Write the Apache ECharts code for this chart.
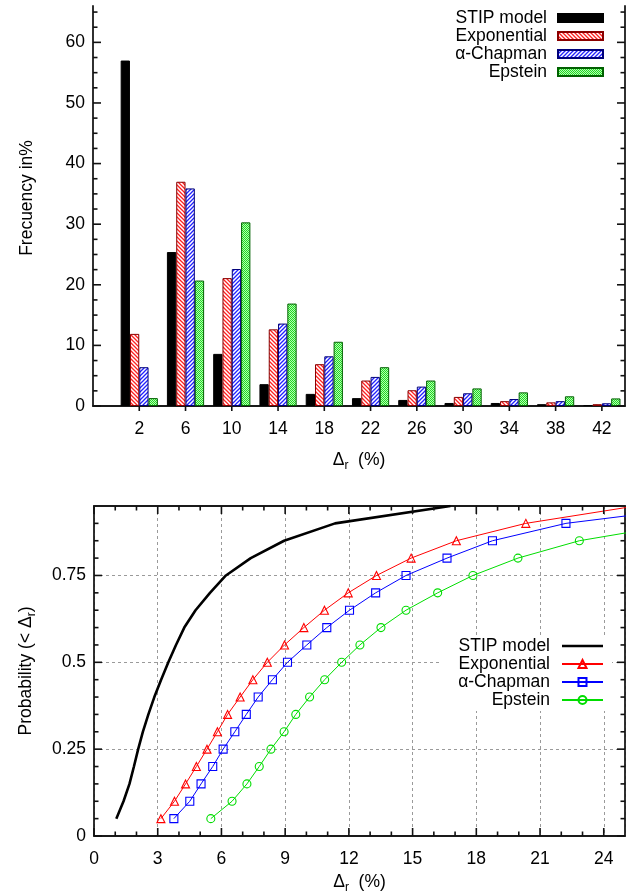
<!DOCTYPE html>
<html><head><meta charset="utf-8">
<script src="https://cdn.jsdelivr.net/npm/echarts@6/dist/echarts.min.js"></script>
<style>html,body{margin:0;padding:0;background:#fff}#c{width:632px;height:895px}</style>
</head><body><div id="c"></div>
<script>
// ---------- DATA: top histogram ----------
const barCats = [2, 6, 10, 14, 18, 22, 26, 30, 34, 38, 42];
const stipFreq = [57.0, 25.4, 8.6, 3.6, 2.0, 1.3, 1.0, 0.5, 0.5, 0.3, 0.15];
const expoFreq = [11.9, 37.0, 21.1, 12.65, 6.9, 4.2, 2.6, 1.5, 0.8, 0.6, 0.3];
const chapFreq = [6.4, 35.9, 22.6, 13.6, 8.2, 4.8, 3.2, 2.1, 1.15, 0.8, 0.45];
const epstFreq = [1.3, 20.7, 30.3, 16.9, 10.6, 6.4, 4.2, 2.9, 2.25, 1.6, 1.25];
const topYLabels = [0, 10, 20, 30, 40, 50, 60];
const topYMinor = [2.5, 5, 7.5, 12.5, 15, 17.5, 22.5, 25, 27.5, 32.5, 35, 37.5, 42.5, 45, 47.5, 52.5, 55, 57.5, 62.5, 65];

// ---------- DATA: bottom cumulative curves ----------
const stipX = [1.05, 1.39, 1.67, 1.88, 2.08, 2.30, 2.56, 2.84, 3.16, 3.50, 3.86, 4.25, 4.78, 5.46, 6.21, 7.38, 8.95, 11.35, 16.78];
const stipP = [0.05, 0.10, 0.15, 0.20, 0.25, 0.30, 0.35, 0.40, 0.45, 0.50, 0.55, 0.60, 0.65, 0.70, 0.75, 0.80, 0.85, 0.90, 0.95];
const expoX = [3.15, 3.79, 4.31, 4.82, 5.32, 5.81, 6.29, 6.88, 7.48, 8.16, 8.97, 9.88, 10.85, 11.97, 13.30, 14.93, 17.06, 20.33, 25.5];
const expoP = [0.05, 0.10, 0.15, 0.20, 0.25, 0.30, 0.35, 0.40, 0.45, 0.50, 0.55, 0.60, 0.65, 0.70, 0.75, 0.80, 0.85, 0.90, 0.95];
const chapX = [3.76, 4.51, 5.04, 5.59, 6.08, 6.63, 7.17, 7.73, 8.40, 9.11, 10.02, 10.96, 12.03, 13.26, 14.69, 16.62, 18.76, 22.22, 28.8];
const chapP = [0.05, 0.10, 0.15, 0.20, 0.25, 0.30, 0.35, 0.40, 0.45, 0.50, 0.55, 0.60, 0.65, 0.70, 0.75, 0.80, 0.85, 0.90, 0.95];
const epstX = [5.50, 6.50, 7.20, 7.78, 8.33, 8.95, 9.50, 10.15, 10.86, 11.66, 12.52, 13.51, 14.69, 16.18, 17.84, 19.96, 22.85, 27.7];
const epstP = [0.05, 0.10, 0.15, 0.20, 0.25, 0.30, 0.35, 0.40, 0.45, 0.50, 0.55, 0.60, 0.65, 0.70, 0.75, 0.80, 0.85, 0.90];
const botXLabels = [0, 3, 6, 9, 12, 15, 18, 21, 24];
const botXMinor = [1, 2, 4, 5, 7, 8, 10, 11, 13, 14, 16, 17, 19, 20, 22, 23];
const botYLabels = [0, 0.25, 0.5, 0.75];
const botYMinor = [0.05, 0.1, 0.15, 0.2, 0.3, 0.35, 0.4, 0.45, 0.55, 0.6, 0.65, 0.7, 0.8, 0.85, 0.9];
const seriesNames = ['STIP model', 'Exponential', '\u03b1-Chapman', 'Epstein'];

// ---------- STYLE HELPERS ----------
const FONT = '"Liberation Sans", Arial, sans-serif';
const FS = 17.5;
function stripes(color, dir) {
  const c = document.createElement('canvas'); c.width = 4; c.height = 4;
  const g = c.getContext('2d');
  g.fillStyle = '#fff'; g.fillRect(0, 0, 4, 4);
  g.strokeStyle = color; g.lineWidth = 1.3; g.beginPath();
  if (dir > 0) { g.moveTo(0, 4); g.lineTo(4, 0); g.moveTo(-1, 1); g.lineTo(1, -1); g.moveTo(3, 5); g.lineTo(5, 3); }
  else { g.moveTo(0, 0); g.lineTo(4, 4); g.moveTo(-1, 3); g.lineTo(1, 5); g.moveTo(3, -1); g.lineTo(5, 1); }
  g.stroke();
  return { image: c, repeat: 'repeat' };
}
function dots() {
  const c = document.createElement('canvas'); c.width = 2; c.height = 2;
  const g = c.getContext('2d');
  g.fillStyle = '#b4f8b4'; g.fillRect(0, 0, 2, 2);
  g.fillStyle = '#20dd20'; g.fillRect(0, 0, 1, 1); g.fillRect(1, 1, 1, 1);
  return { image: c, repeat: 'repeat' };
}
const lbl = { fontSize: FS, color: '#000', fontFamily: FONT };
function frame() { return { show: true, onZero: false, lineStyle: { color: '#1a1a1a', width: 1.8 } }; }
const rich = {
  a: { fontSize: FS, fontFamily: FONT, color: '#000' },
  b: { fontSize: 12, fontFamily: FONT, color: '#000', padding: [11, 0, 0, 0] }
};
const dashed = { show: true, lineStyle: { color: '#9a9a9a', width: 1, type: [3, 3] } };

function ax(o) {
  return Object.assign({
    type: 'value', axisLine: frame(), axisLabel: { show: false },
    axisTick: { show: false }, splitLine: { show: false }, minorTick: { show: false }
  }, o);
}

const xAxis = [
  ax({ gridIndex: 0, min: -2, max: 44, position: 'bottom',
       axisLabel: Object.assign({ show: true, customValues: barCats, margin: 14 }, lbl),
       name: '{a|\u0394}{b|r}{a|  (%)}', nameLocation: 'middle', nameGap: 43,
       nameTextStyle: { rich: rich } }),
  ax({ gridIndex: 1, min: 0, max: 25, interval: 3, position: 'bottom', splitLine: dashed,
       axisLabel: Object.assign({ show: true, customValues: botXLabels, margin: 14 }, lbl),
       name: '{a|\u0394}{b|r}{a|  (%)}', nameLocation: 'middle', nameGap: 35,
       nameTextStyle: { rich: rich } }),
  ax({ gridIndex: 1, min: 0, max: 25, position: 'top' })
];
const yAxis = [
  ax({ gridIndex: 0, min: 0, max: 66, position: 'left',
       axisLabel: Object.assign({ show: true, customValues: topYLabels, margin: 8 }, lbl),
       name: 'Frecuency in%', nameLocation: 'middle', nameGap: 57,
       nameTextStyle: Object.assign({ padding: [0, 0, 0, 16] }, lbl) }),
  ax({ gridIndex: 0, min: 0, max: 66, position: 'right' }),
  ax({ gridIndex: 1, min: 0, max: 0.95, interval: 0.25, position: 'left', splitLine: dashed,
       axisLabel: Object.assign({ show: true, customValues: botYLabels, margin: 8 }, lbl),
       name: '{a|Probability (< \u0394}{b|r}{a|)}', nameLocation: 'middle', nameGap: 56,
       nameTextStyle: { rich: rich } }),
  ax({ gridIndex: 1, min: 0, max: 0.95, position: 'right' })
];

// tick marks drawn through the axes' scales (api.coord)
const tickLine = { stroke: '#111', lineWidth: 1.6 };
function tickSeries(xIdx, yIdx, orient, major, minor, majorLen, minorLen, mode) {
  const data = major.map(v => [v, 1]).concat(minor.map(v => [v, 0]));
  return {
    type: 'custom', xAxisIndex: xIdx, yAxisIndex: yIdx, silent: true, z: 6, clip: false,
    encode: orient === 'y' ? { y: 0, x: 1 } : { x: 0, y: 1 },
    data: data,
    renderItem: function (params, api) {
      const v = api.value(0), isMajor = api.value(1) === 1;
      const cs = params.coordSys, L = isMajor ? majorLen : minorLen;
      const kids = [];
      if (orient === 'y') {
        const y = api.coord([0, v])[1];
        kids.push({ type: 'line', shape: { x1: cs.x, y1: y, x2: cs.x + L, y2: y }, style: tickLine });
        kids.push({ type: 'line', shape: { x1: cs.x + cs.width, y1: y, x2: cs.x + cs.width - L, y2: y }, style: tickLine });
      } else {
        const x = api.coord([v, 0])[0];
        const yb = cs.y + cs.height;
        if (mode === 'out') {
          kids.push({ type: 'line', shape: { x1: x, y1: yb, x2: x, y2: yb + L }, style: tickLine });
        } else {
          kids.push({ type: 'line', shape: { x1: x, y1: yb, x2: x, y2: yb - L }, style: tickLine });
          kids.push({ type: 'line', shape: { x1: x, y1: cs.y, x2: x, y2: cs.y + L }, style: tickLine });
        }
      }
      return { type: 'group', children: kids };
    }
  };
}

const pair = (xs, ys) => xs.map((x, i) => [x, ys[i]]);
const barStyles = [
  { color: '#000', borderColor: '#000', borderWidth: 1 },
  { color: stripes('#ff2020', -1), borderColor: '#8a0000', borderWidth: 1 },
  { color: stripes('#2020ff', 1), borderColor: '#00007a', borderWidth: 1 },
  { color: dots(), borderColor: '#006000', borderWidth: 1 }
];
const freqs = [stipFreq, expoFreq, chapFreq, epstFreq];
const barSeries = freqs.map((f, k) => ({
  type: 'bar', name: seriesNames[k], xAxisIndex: 0, yAxisIndex: 0,
  barWidth: 9.3, barGap: '0%', itemStyle: barStyles[k],
  data: barCats.map((c, i) => [c, f[i]])
}));

const lineDefs = [
  { x: stipX, p: stipP, color: '#000', width: 2.6, symbol: 'none' },
  { x: expoX, p: expoP, color: '#ff0000', width: 1, symbol: 'triangle' },
  { x: chapX, p: chapP, color: '#0000ff', width: 1, symbol: 'rect' },
  { x: epstX, p: epstP, color: '#00dd00', width: 1, symbol: 'circle' }
];
const lineSeries = lineDefs.map((d, k) => ({
  type: 'line', name: seriesNames[k] + ' ', xAxisIndex: 1, yAxisIndex: 2,
  data: pair(d.x, d.p), clip: true, symbol: d.symbol, symbolSize: 8, showSymbol: d.symbol !== 'none',
  lineStyle: { color: d.color, width: d.width },
  itemStyle: { color: k === 0 ? '#000' : 'rgba(255,255,255,0)', borderColor: d.color, borderWidth: 1.1 },
  z: k === 0 ? 3 : 4
}));

const tickSeriesList = [
  tickSeries(0, 0, 'x', barCats, [], 5, 0, 'out'),
  tickSeries(0, 0, 'y', topYLabels, topYMinor, 8, 4.5),
  tickSeries(1, 2, 'x', botXLabels, botXMinor, 8, 4.5, 'in'),
  tickSeries(1, 2, 'y', botYLabels, botYMinor, 8, 4.5)
];

const botLegendData = seriesNames.map((n, k) => k === 0
  ? { name: n + ' ', icon: 'path://M0,0L41,0L41,2.6L0,2.6Z', itemStyle: { color: '#000', borderWidth: 0 } }
  : { name: n + ' ' });

const chart = echarts.init(document.getElementById('c'), null, { renderer: 'canvas' });
chart.setOption({
  animation: false,
  backgroundColor: '#fff',
  textStyle: { fontFamily: FONT },
  grid: [
    { left: 93, top: 6, width: 532, height: 400, show: false },
    { left: 94, top: 506, width: 531, height: 330, show: false }
  ],
  legend: [
    { data: seriesNames, orient: 'vertical', right: 28, top: 9, align: 'right',
      icon: 'rect', itemWidth: 45, itemHeight: 8, itemGap: 0, padding: 0,
      textStyle: Object.assign({ padding: [0, 6, 0, 0] }, lbl), selectedMode: false },
    { data: botLegendData, orient: 'vertical', right: 20, top: 635, align: 'right',
      itemWidth: 41, itemHeight: 10, itemGap: 0, padding: [2, 8, 2, 18], backgroundColor: '#fff',
      formatter: n => n.trim(),
      textStyle: Object.assign({ padding: [0, 7, 0, 0] }, lbl), selectedMode: false }
  ],
  xAxis: xAxis,
  yAxis: yAxis,
  series: barSeries.concat(lineSeries, tickSeriesList)
});
</script>
</body></html>
